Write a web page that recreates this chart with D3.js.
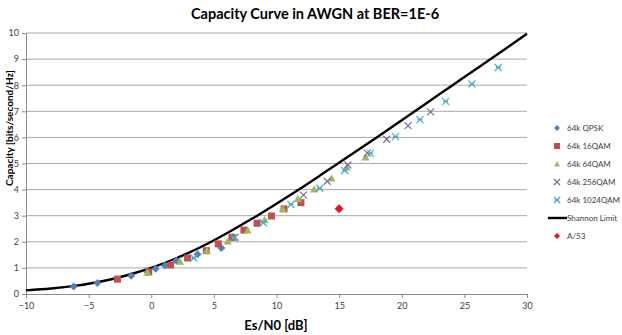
<!DOCTYPE html>
<html><head><meta charset="utf-8">
<script src="https://cdn.jsdelivr.net/npm/d3@7"></script>
<style>
html,body{margin:0;padding:0;background:#fff;}
svg{display:block;}
</style></head>
<body>
<svg id="chart" width="622" height="335"></svg>
<script>
// ---------- DATA ----------
const title = "Capacity Curve in AWGN at BER=1E-6";
const xTitle = "Es/N0 [dB]";
const yTitle = "Capacity [bits/second/Hz]";
const xTicks = [-10, -5, 0, 5, 10, 15, 20, 25, 30];
const yTicks = [0, 1, 2, 3, 4, 5, 6, 7, 8, 9, 10];

const qpsk = [[-6.2,0.29],[-4.3,0.42],[-1.6,0.70],[-0.3,0.84],[0.35,0.97],[1.1,1.09],[2.0,1.27],[3.7,1.52],[5.6,1.76]];
const qam16 = [[-2.7,0.57],[-0.2,0.85],[1.55,1.11],[2.9,1.38],[4.4,1.66],[5.35,1.92],[6.45,2.17],[7.4,2.45],[8.45,2.71],[9.6,2.99],[10.6,3.26],[11.95,3.5]];
const qam64 = [[-0.3,0.82],[2.3,1.24],[4.45,1.66],[6.1,2.02],[7.7,2.44],[9.05,2.84],[10.5,3.26],[11.7,3.65],[13.0,4.01],[14.4,4.43],[15.6,4.85],[17.1,5.24]];
const qam256 = [[6.7,2.18],[12.15,3.79],[14.05,4.32],[15.7,4.95],[17.25,5.4],[18.8,5.93],[20.5,6.45],[22.3,6.98]];
const qam1024 = [[3.4,1.38],[6.6,2.15],[8.95,2.73],[11.15,3.43],[13.45,4.05],[15.45,4.73],[17.5,5.39],[19.5,6.03],[21.45,6.68],[23.5,7.38],[25.6,8.05],[27.7,8.68]];
const shannonX = [-10,-8,-6,-4,-2,0,2,4,6,8,10,12,14,16,18,20,22,24,26,28,30];
const shannonY = [0.14,0.21,0.32,0.48,0.71,1.0,1.37,1.81,2.32,2.87,3.46,4.07,4.71,5.35,6.0,6.66,7.32,7.98,8.64,9.30,9.97];
const a53 = [[15.0,3.27]];

const seriesNames = ["64k QPSK","64k 16QAM","64k 64QAM","64k 256QAM","64k 1024QAM","Shannon Limit","A/53"];

// ---------- LAYOUT ----------
const svg = d3.select("#chart");
const font = "Lato, 'Open Sans', 'Liberation Sans', sans-serif";
const x = d3.scaleLinear().domain([-10, 30]).range([26, 527]);
const y = d3.scaleLinear().domain([0, 10]).range([294, 33]);

const colors = {
  "64k QPSK": "#4f81bd",
  "64k 16QAM": "#c0504d",
  "64k 64QAM": "#9bbb59",
  "64k 256QAM": "#8064a2",
  "64k 1024QAM": "#4bacc6",
  "Shannon Limit": "#000000",
  "A/53": "#e8102a"
};

// gridlines
svg.append("g").selectAll("line").data(yTicks.filter(d => d > 0)).join("line")
  .attr("x1", x(-10)).attr("x2", x(30))
  .attr("y1", d => y(d)).attr("y2", d => y(d))
  .attr("stroke", "#a8a8a8").attr("stroke-width", 1);

// axes
const xAxis = d3.axisBottom(x).tickValues(xTicks).tickSize(4).tickPadding(5).tickFormat(d3.format("d"));
const yAxis = d3.axisLeft(y).tickValues(yTicks).tickSize(4).tickPadding(3).tickFormat(d3.format("d"));
const gx = svg.append("g").attr("transform", `translate(0,${y(0)})`).call(xAxis);
const gy = svg.append("g").attr("transform", `translate(${x(-10)},0)`).call(yAxis);
[gx, gy].forEach(g => {
  g.select(".domain").attr("stroke", "#8c8c8c");
  g.selectAll(".tick line").attr("stroke", "#8c8c8c");
  g.selectAll(".tick text").attr("fill", "#404040").style("font-family", font).style("font-size", "9px");
});

// shannon line
const line = d3.line().x(d => x(d[0])).y(d => y(d[1])).curve(d3.curveMonotoneX);
svg.append("path").datum(shannonX.map((v, i) => [v, shannonY[i]]))
  .attr("d", line).attr("fill", "none").attr("stroke", "#000").attr("stroke-width", 2.4);

// markers
function drawMarker(g, shape, color, cx, cy, s) {
  const h = s / 2;
  if (shape === "diamond") {
    g.append("path").attr("d", `M${cx},${cy - h}L${cx + h},${cy}L${cx},${cy + h}L${cx - h},${cy}Z`).attr("fill", color);
  } else if (shape === "square") {
    g.append("rect").attr("x", cx - h).attr("y", cy - h).attr("width", s).attr("height", s).attr("fill", color);
  } else if (shape === "triangle") {
    g.append("path").attr("d", `M${cx},${cy - h}L${cx + h},${cy + h * 0.8}L${cx - h},${cy + h * 0.8}Z`).attr("fill", color);
  } else if (shape === "x") {
    g.append("path").attr("d", `M${cx - h},${cy - h}L${cx + h},${cy + h}M${cx - h},${cy + h}L${cx + h},${cy - h}`)
      .attr("stroke", color).attr("stroke-width", 1.2).attr("fill", "none");
  } else if (shape === "star") {
    g.append("path").attr("d", `M${cx - h},${cy - h}L${cx + h},${cy + h}M${cx - h},${cy + h}L${cx + h},${cy - h}M${cx - h * 0.7},${cy}L${cx + h * 0.7},${cy}`)
      .attr("stroke", color).attr("stroke-width", 1.2).attr("fill", "none");
  }
}

const series = [
  {name: "64k QPSK", data: qpsk, shape: "diamond", size: 8},
  {name: "64k 16QAM", data: qam16, shape: "square", size: 7},
  {name: "64k 64QAM", data: qam64, shape: "triangle", size: 8},
  {name: "64k 256QAM", data: qam256, shape: "x", size: 7},
  {name: "64k 1024QAM", data: qam1024, shape: "star", size: 7},
  {name: "A/53", data: a53, shape: "diamond", size: 9}
];
const gm = svg.append("g");
series.forEach(s => {
  s.data.forEach(d => drawMarker(gm, s.shape, colors[s.name], x(d[0]), y(d[1]), s.size));
});

// title
svg.append("text").attr("x", 315).attr("y", 19).attr("text-anchor", "middle")
  .style("font-family", font).style("font-weight", "bold").style("font-size", "14.5px").attr("fill", "#000")
  .text(title);
svg.append("text").attr("x", 276).attr("y", 330).attr("text-anchor", "middle")
  .style("font-family", font).style("font-weight", "bold").style("font-size", "13px").attr("fill", "#000")
  .text(xTitle);
svg.append("text").attr("transform", "translate(13,128) rotate(-90)").attr("text-anchor", "middle")
  .style("font-family", font).style("font-weight", "bold").style("font-size", "10px").attr("fill", "#000")
  .text(yTitle);

// legend
const legendShapes = {"64k QPSK": "diamond", "64k 16QAM": "square", "64k 64QAM": "triangle", "64k 256QAM": "x", "64k 1024QAM": "star", "A/53": "diamond"};
const lg = svg.append("g");
seriesNames.forEach((n, i) => {
  const ly = 128 + i * 18;
  if (n === "Shannon Limit") {
    lg.append("line").attr("x1", 548).attr("x2", 567).attr("y1", ly).attr("y2", ly).attr("stroke", "#000").attr("stroke-width", 2.4);
  } else {
    drawMarker(lg, legendShapes[n], colors[n], 557, ly, 6);
  }
  lg.append("text").attr("x", n === "Shannon Limit" ? 567 : 567).attr("y", ly + 3)
    .style("font-family", font).style("font-size", "8px").attr("fill", "#404040").text(n);
});
</script>
</body></html>
